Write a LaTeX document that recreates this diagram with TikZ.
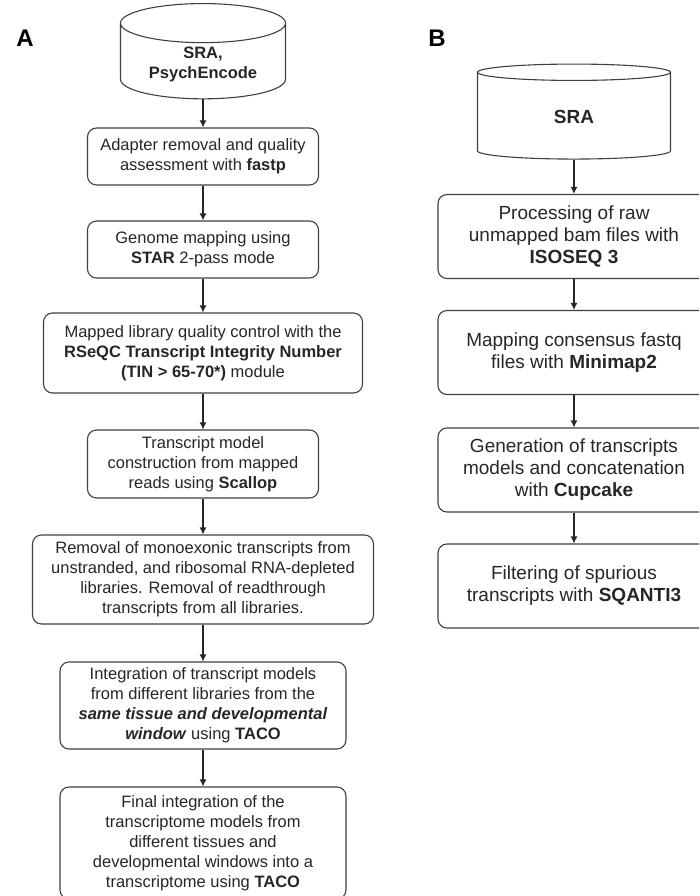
\documentclass[tikz,border=0pt]{standalone}
\usepackage{fontspec}
\setmainfont{Liberation Sans}
\usepackage{tikz}
\usetikzlibrary{shapes,arrows}
\usetikzlibrary{arrows.meta}

\begin{document}
\begin{tikzpicture}[x=1pt,y=-1pt]
        \tikzstyle{block} = [rectangle, draw=black!75, line width=1.1pt, rounded corners=9pt, align=center, text=black!85, inner sep=2pt, font=\fontsize{16.5}{20}\selectfont]
        \tikzstyle{bigblock} = [block, minimum width=272pt, minimum height=84pt, font=\fontsize{19}{22}\selectfont]
        \tikzstyle{db} = [cylinder, shape border rotate=90, draw=black!75, line width=1.1pt, align=center, text=black!85]
        \tikzstyle{panel} = [font=\bfseries\fontsize{24}{24}\selectfont]
        \tikzstyle{line} = [draw=black!85, line width=1.2pt, -{Latex[length=7pt,width=7pt]}]

        \clip (0,0) rectangle (699,896);

        % A: short-read pipeline
        \node [panel] (labA) at (25,38) {A};
        \node [db, minimum width=165pt, minimum height=84pt, aspect=0.34, font=\bfseries\fontsize{16.5}{20}\selectfont] (sraA) at (203,64) {SRA,\\PsychEncode};
        \node [block, minimum width=231pt, minimum height=57pt, below of=sraA, node distance=92.5pt] (fastp) {Adapter removal and quality\\assessment with \textbf{fastp}};
        \node [block, minimum width=231pt, minimum height=57pt, below of=fastp, node distance=93pt] (star) {Genome mapping using\\\textbf{STAR} 2-pass mode};
        \node [block, minimum width=319pt, minimum height=80pt, below of=star, node distance=103.5pt] (rseqc) {Mapped library quality control with the\\\textbf{RSeQC Transcript Integrity Number}\\\textbf{(TIN > 65-70*)} module};
        \node [block, minimum width=231pt, minimum height=68pt, below of=rseqc, node distance=111pt] (scallop) {Transcript model\\construction from mapped\\reads using \textbf{Scallop}};
        \node [block, minimum width=341pt, minimum height=89pt, below of=scallop, node distance=115.5pt] (removal) {Removal of monoexonic transcripts from\\unstranded, and ribosomal RNA-depleted\\libraries. Removal of readthrough\\transcripts from all libraries.};
        \node [block, minimum width=286pt, minimum height=87pt, below of=removal, node distance=126pt] (tacoone) {Integration of transcript models\\from different libraries from the\\\textbf{\textit{same tissue and developmental}}\\\textbf{\textit{window}} using \textbf{TACO}};
        \node [block, minimum width=286pt, minimum height=112pt, below of=tacoone, node distance=137.5pt] (tacoall) {Final integration of the\\transcriptome models from\\different tissues and\\developmental windows into a\\transcriptome using \textbf{TACO}};

        % B: long-read pipeline
        \node [panel] (labB) at (437,38) {B};
        \node [db, minimum width=193pt, minimum height=95pt, aspect=0.35, font=\bfseries\fontsize{19}{22}\selectfont] (sraB) at (574,117) {SRA};
        \node [bigblock, below of=sraB, node distance=119.5pt] (isoseq) {Processing of raw\\unmapped bam files with\\\textbf{ISOSEQ 3}};
        \node [bigblock, below of=isoseq, node distance=116pt] (minimap) {Mapping consensus fastq\\files with \textbf{Minimap2}};
        \node [bigblock, below of=minimap, node distance=117.5pt] (cupcake) {Generation of transcripts\\models and concatenation\\with \textbf{Cupcake}};
        \node [bigblock, below of=cupcake, node distance=116pt] (sqanti) {Filtering of spurious\\transcripts with \textbf{SQANTI3}};

        \path [line] (sraA) -- (fastp);
        \path [line] (fastp) -- (star);
        \path [line] (star) -- (rseqc);
        \path [line] (rseqc) -- (scallop);
        \path [line] (scallop) -- (removal);
        \path [line] (removal) -- (tacoone);
        \path [line] (tacoone) -- (tacoall);

        \path [line] (sraB) -- (isoseq);
        \path [line] (isoseq) -- (minimap);
        \path [line] (minimap) -- (cupcake);
        \path [line] (cupcake) -- (sqanti);
    \end{tikzpicture}
\end{document}
